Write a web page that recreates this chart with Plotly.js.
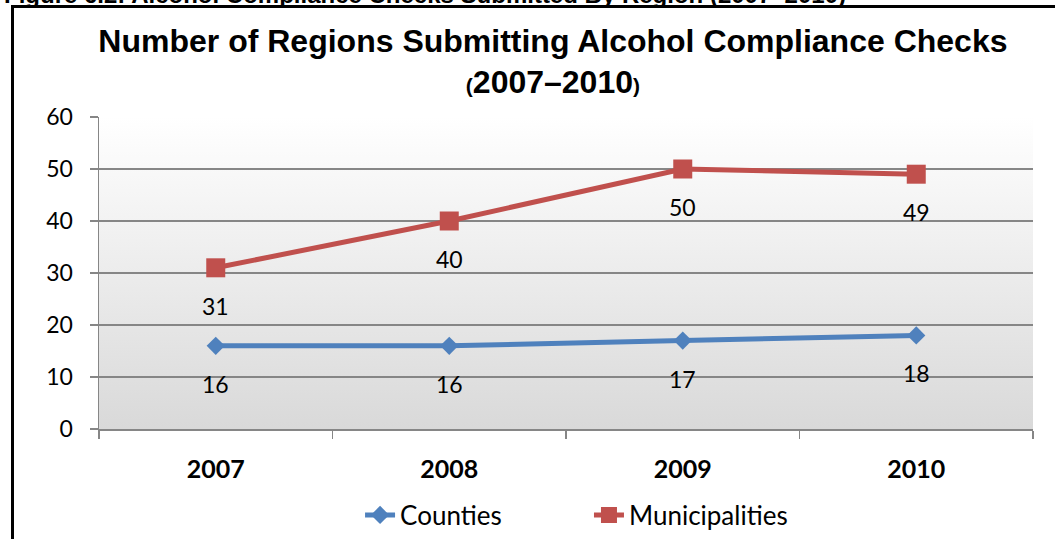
<!DOCTYPE html>
<html>
<head>
<meta charset="utf-8">
<script src="https://cdn.plot.ly/plotly-3.0.1.min.js"></script>
<style>
  html, body { margin: 0; padding: 0; background: #ffffff; }
  #wrap { position: relative; width: 1055px; height: 539px; overflow: hidden; background: #ffffff; }
  #chart { position: absolute; left: 0; top: 0; width: 1055px; height: 539px; }
  #frame { position: absolute; left: 11px; top: 5px; width: 1100px; height: 600px;
           border-top: 3px solid #000; border-left: 3px solid #000; pointer-events: none; }
  #caption { position: absolute; left: 4px; top: -19px; white-space: nowrap;
             font-family: "Liberation Sans", Arial, sans-serif; font-weight: bold; font-size: 24px; color: #000; }
</style>
</head>
<body>
<div id="wrap">
  <div id="chart"></div>
  <div id="frame"></div>
  <div id="caption">Figure 6.2: Alcohol Compliance Checks Submitted By Region (2007–2010)</div>
</div>
<script>
const years = ["2007", "2008", "2009", "2010"];
const counties = [16, 16, 17, 18];
const municipalities = [31, 40, 50, 49];
const seriesNames = ["Counties", "Municipalities"];
const yTicks = [0, 10, 20, 30, 40, 50, 60];

const FONT = "Lato, 'Open Sans', sans-serif";
const TFONT = "'Liberation Sans', Arial, sans-serif";
const BLUE = "#4F81BD";
const RED = "#C0504D";

const gradSvg = '<svg xmlns="http://www.w3.org/2000/svg" width="100" height="100" preserveAspectRatio="none">' +
  '<defs><linearGradient id="g" x1="0" y1="0" x2="0" y2="1">' +
  '<stop offset="0" stop-color="#ffffff"/><stop offset="1" stop-color="#d9d9d9"/>' +
  '</linearGradient></defs><rect width="100" height="100" fill="url(#g)"/></svg>';
const gradUri = "data:image/svg+xml;base64," + btoa(gradSvg);

const traces = [
  {
    x: years, y: counties, name: seriesNames[0], type: "scatter", mode: "lines+markers",
    line: { color: BLUE, width: 5 },
    marker: { symbol: "diamond", size: 14, color: BLUE },
    legend: "legend"
  },
  {
    x: years, y: municipalities, name: seriesNames[1], type: "scatter", mode: "lines+markers",
    line: { color: RED, width: 5 },
    marker: { symbol: "square", size: 19, color: RED },
    legend: "legend2"
  }
];

const labelAnnotations = [];
[counties, municipalities].forEach(function (vals) {
  vals.forEach(function (v, i) {
    labelAnnotations.push({
      x: i, y: v, xref: "x", yref: "y", text: String(v), showarrow: false,
      yshift: -38, font: { family: FONT, size: 23, color: "#000" }
    });
  });
});

const legendCommon = {
  orientation: "h", y: -0.2756, yanchor: "middle", xanchor: "left",
  font: { family: FONT, size: 26, color: "#000" },
  bgcolor: "rgba(0,0,0,0)"
};

const layout = {
  width: 1055, height: 539,
  margin: { l: 99, r: 22, t: 117, b: 110, autoexpand: false },
  paper_bgcolor: "rgba(0,0,0,0)",
  plot_bgcolor: "rgba(0,0,0,0)",
  showlegend: true,
  title: {
    text: "Number of Regions Submitting Alcohol Compliance Checks<br><span style='font-size:21px'>(</span>2007–2010<span style='font-size:21px'>)</span>",
    font: { family: TFONT, size: 32, color: "#000", weight: "bold" },
    x: 0.486, xanchor: "center", y: 0.904, yanchor: "top", xref: "paper"
  },
  xaxis: {
    type: "category", range: [-0.5, 3.5],
    tickson: "boundaries", ticks: "outside", ticklen: 8, tickcolor: "#868686", tickwidth: 1.5,
    showline: true, linecolor: "#868686", linewidth: 1.5,
    showgrid: false, zeroline: false,
    tickfont: { family: FONT, size: 25, color: "#000", weight: "bold" },
    ticklabelstandoff: 17
  },
  yaxis: {
    range: [0, 60], tickvals: yTicks, ticktext: yTicks.map(String),
    ticks: "outside", ticklen: 8, tickcolor: "#868686", tickwidth: 1.5,
    showline: true, linecolor: "#868686", linewidth: 1.5,
    showgrid: true, gridcolor: "#868686", gridwidth: 1.7, zeroline: false,
    tickfont: { family: FONT, size: 23, color: "#000" },
    ticklabelstandoff: 12
  },
  legend: Object.assign({}, legendCommon, { x: 0.2795 }),
  legend2: Object.assign({}, legendCommon, { x: 0.5246 }),
  annotations: labelAnnotations,
  images: [{
    source: gradUri, xref: "x domain", yref: "y domain", x: 0, y: 1, sizex: 1, sizey: 1,
    xanchor: "left", yanchor: "top", sizing: "stretch", layer: "below"
  }]
};

Plotly.newPlot("chart", traces, layout, { displayModeBar: false, staticPlot: true });
</script>
</body>
</html>
